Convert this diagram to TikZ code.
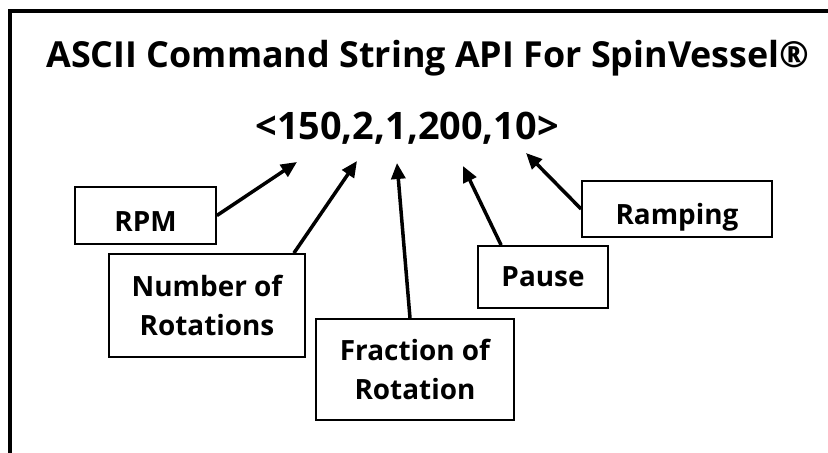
\documentclass[tikz,border=0pt]{standalone}
\usepackage{fontspec}
\setmainfont{Open Sans}
\usetikzlibrary{arrows.meta,positioning}

\begin{document}
\begin{tikzpicture}[
        x=1bp, y=-1bp,
        frame/.style={line width=4bp},
        heading/.style={font=\fontsize{36}{40}\selectfont\bfseries},
        command/.style={font=\fontsize{38}{44}\selectfont\bfseries},
        field/.style={draw, line width=1.8bp, align=center, inner sep=0pt,
            font=\fontsize{28}{40}\selectfont\bfseries},
        lowtext/.style={text height=32bp, text depth=0bp},
        arrow/.style={-{Triangle[length=16bp,width=14bp]}, line width=3.5bp}
    ]

    % Page and outer frame
    \clip (0,0) rectangle (828,453);
    \draw[frame] (9.5,11) rectangle (850,470);

    % Title and command string
    \node[heading, anchor=base] (title) at (428,68) {ASCII Command String API For SpinVessel®};
    \node[command, anchor=base] (cmd) at (407,140) {<150,2,1,200,10>};

    % Arrow tips under the command string
    \coordinate (tip-rpm) at (297,162);
    \coordinate (tip-nrot) at (357,161);
    \coordinate (tip-frac) at (397,163);
    \coordinate (tip-pause) at (463,166);
    \coordinate (tip-ramp) at (526,153);

    % Field boxes
    \node[field, lowtext, minimum width=141bp, minimum height=57bp] (rpm) at (145.5,215.5) {RPM};
    \node[field, minimum width=196bp, minimum height=103bp] (nrot) at (207,305.5) {Number of\\Rotations};
    \node[field, minimum width=198bp, minimum height=101bp] (frac) at (415,369.5) {Fraction of\\Rotation};
    \node[field, text height=20bp, text depth=0bp, minimum width=130bp, minimum height=62bp] (pause) at (543,277) {Pause};
    \node[field, lowtext, minimum width=190bp, minimum height=56bp] (ramp) at (677,209) {Ramping};

    % Arrows
    \draw[arrow] (rpm.east) -- (tip-rpm);
    \draw[arrow] ([xshift=-12bp]nrot.north east) -- (tip-nrot);
    \draw[arrow] ([xshift=-5bp]frac.north) -- (tip-frac);
    \draw[arrow] ([xshift=24bp]pause.north west) -- (tip-pause);
    \draw[arrow] (ramp.west) -- (tip-ramp);

\end{tikzpicture}
\end{document}
